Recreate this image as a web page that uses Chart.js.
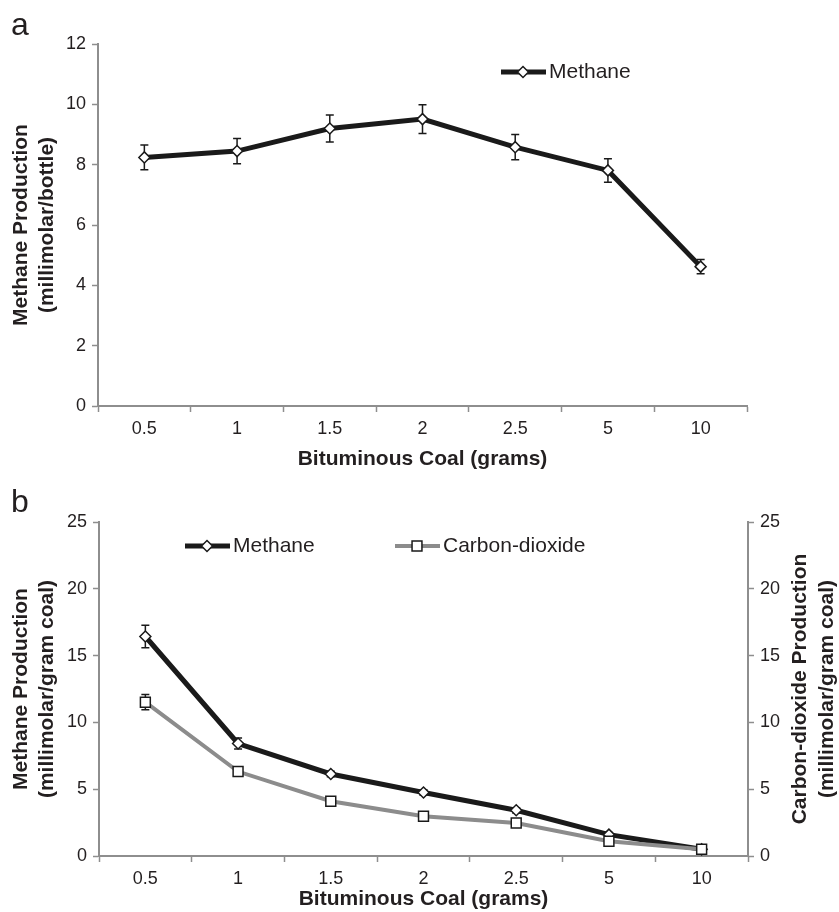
<!DOCTYPE html>
<html>
<head>
<meta charset="utf-8">
<script src="https://cdn.jsdelivr.net/npm/chart.js@4/dist/chart.umd.min.js"></script>
<style>
  body { margin: 0; background: #fff; }
  #wrapA { position: absolute; left: 0; top: 0; width: 839px; height: 472px; }
  #wrapB { position: absolute; left: 0; top: 472px; width: 839px; height: 440px; }
</style>
</head>
<body>
<div id="wrapA"><canvas id="chartA" width="839" height="472"></canvas></div>
<div id="wrapB"><canvas id="chartB" width="839" height="440"></canvas></div>
<script>
// coal amount categories (grams)
var coal = ['0.5', '1', '1.5', '2', '2.5', '5', '10'];

// panel a: methane per bottle
var methaneA = [8.24, 8.45, 9.2, 9.51, 8.58, 7.81, 4.62];
var methaneAErr = [0.41, 0.42, 0.45, 0.48, 0.42, 0.39, 0.24];
var ticksA = [0, 2, 4, 6, 8, 10, 12];

// panel b: per gram coal
var methaneB = [16.43, 8.42, 6.14, 4.75, 3.42, 1.6, 0.5];
var methaneBErr = [0.84, 0.42, 0.2, 0.2, 0.2, 0.15, 0.1];
var co2B = [11.51, 6.32, 4.1, 2.97, 2.47, 1.1, 0.5];
var co2BErr = [0.57, 0.2, 0.2, 0.15, 0.15, 0.1, 0.1];
var ticksB = [0, 5, 10, 15, 20, 25];

var ink = '#231f20';
var black = '#1a1a1a';
var grey = '#8c8c8c';
var axisGrey = '#8e8e8e';
var font = "'Liberation Sans', Arial, sans-serif";

Chart.defaults.font.family = font;
Chart.defaults.color = ink;

// error bars drawn through the y scale
var errorBars = {
  id: 'errorBars',
  beforeDatasetsDraw: function(chart) {
    var ctx = chart.ctx;
    chart.data.datasets.forEach(function(ds, i) {
      if (!ds.errors) return;
      var meta = chart.getDatasetMeta(i);
      var ys = chart.scales[meta.yAxisID];
      ctx.save();
      ctx.strokeStyle = black;
      ctx.lineWidth = 1.5;
      meta.data.forEach(function(pt, j) {
        var v = ds.data[j], e = ds.errors[j];
        var top = ys.getPixelForValue(v + e);
        var bot = ys.getPixelForValue(v - e);
        ctx.beginPath();
        ctx.moveTo(pt.x, top); ctx.lineTo(pt.x, bot);
        ctx.moveTo(pt.x - 4, top); ctx.lineTo(pt.x + 4, top);
        ctx.moveTo(pt.x - 4, bot); ctx.lineTo(pt.x + 4, bot);
        ctx.stroke();
      });
      ctx.restore();
    });
  }
};

// excel style legend + panel letter + right axis title
var extras = {
  id: 'extras',
  afterDraw: function(chart, args, opts) {
    var ctx = chart.ctx;
    ctx.save();
    ctx.fillStyle = ink;
    ctx.font = '32px ' + font;
    ctx.textBaseline = 'alphabetic';
    ctx.fillText(opts.letter, 11, opts.letterY);

    (opts.items || []).forEach(function(it) {
      var ds = chart.data.datasets[it.index];
      ctx.strokeStyle = ds.borderColor;
      ctx.lineWidth = ds.borderWidth;
      ctx.beginPath();
      ctx.moveTo(it.x, it.y); ctx.lineTo(it.x + 45, it.y);
      ctx.stroke();
      ctx.fillStyle = ds.pointBackgroundColor;
      ctx.strokeStyle = ds.pointBorderColor;
      ctx.lineWidth = ds.pointBorderWidth;
      Chart.helpers.drawPoint(ctx, {
        pointStyle: ds.pointStyle, radius: ds.pointRadius, borderWidth: ds.pointBorderWidth
      }, it.x + 22, it.y);
      ctx.fillStyle = ink;
      ctx.font = '21px ' + font;
      ctx.textBaseline = 'middle';
      ctx.fillText(ds.label, it.x + 48, it.y);
    });

    if (opts.rightTitle) {
      var ca = chart.chartArea;
      ctx.font = 'bold 21px ' + font;
      ctx.textAlign = 'center';
      ctx.textBaseline = 'middle';
      ctx.translate(opts.rightTitleX, (ca.top + ca.bottom) / 2);
      ctx.rotate(-Math.PI / 2);
      opts.rightTitle.forEach(function(line, k) {
        ctx.fillText(line, 0, k * 27);
      });
    }
    ctx.restore();
  }
};

function lineSet(label, data, errors, color, width, style, radius, axis, order) {
  return {
    label: label,
    data: data,
    errors: errors,
    borderColor: color,
    borderWidth: width,
    backgroundColor: color,
    pointStyle: style,
    pointRadius: radius,
    pointBackgroundColor: '#ffffff',
    pointBorderColor: black,
    pointBorderWidth: 1.5,
    tension: 0,
    yAxisID: axis,
    order: order
  };
}

function yScale(ticks, pos, width) {
  return {
    position: pos,
    min: ticks[0],
    max: ticks[ticks.length - 1],
    afterFit: function(s) { s.width = width; },
    ticks: { stepSize: ticks[1] - ticks[0], padding: 6, font: { size: 18 }, color: ink },
    grid: { drawOnChartArea: false, tickLength: 6, tickColor: axisGrey, tickWidth: 1.5 },
    border: { color: axisGrey, width: 2 }
  };
}

function xScale(height) {
  return {
    offset: true,
    afterFit: function(s) { s.height = height; },
    ticks: { padding: 6, font: { size: 18 }, color: ink, maxRotation: 0 },
    grid: { offset: true, drawOnChartArea: false, tickLength: 6, tickColor: axisGrey, tickWidth: 1.5 },
    border: { color: axisGrey, width: 2 },
    title: {
      display: true, text: 'Bituminous Coal (grams)', color: ink,
      font: { size: 21, weight: 'bold', lineHeight: 1.2 }, padding: { top: 0, bottom: 0 }
    }
  };
}

function leftTitle(lines) {
  return {
    display: true, text: lines, color: ink,
    font: { size: 21, weight: 'bold', lineHeight: 1.2 }, padding: { top: 9, bottom: 0 }
  };
}

var sA = yScale(ticksA, 'left', 98);
sA.title = leftTitle(['Methane Production', '(millimolar/bottle)']);

new Chart(document.getElementById('chartA'), {
  type: 'line',
  data: {
    labels: coal,
    datasets: [lineSet('Methane', methaneA, methaneAErr, black, 5, 'rectRot', 5.5, 'y', 1)]
  },
  options: {
    responsive: false,
    animation: false,
    layout: { padding: { top: 44, right: 92, left: 0, bottom: 0 } },
    scales: { x: xScale(66), y: sA },
    plugins: {
      legend: { display: false },
      tooltip: { enabled: false },
      extras: { letter: 'a', letterY: 35, items: [{ index: 0, x: 501, y: 72 }] }
    }
  },
  plugins: [errorBars, extras]
});

var sB = yScale(ticksB, 'left', 99);
sB.title = leftTitle(['Methane Production', '(millimolar/gram coal)']);
var sB1 = yScale(ticksB, 'right', 91);

new Chart(document.getElementById('chartB'), {
  type: 'line',
  data: {
    labels: coal,
    datasets: [
      lineSet('Methane', methaneB, methaneBErr, black, 5, 'rectRot', 5.5, 'y', 1),
      lineSet('Carbon-dioxide', co2B, co2BErr, grey, 4, 'rect', 7, 'y1', 0)
    ]
  },
  options: {
    responsive: false,
    animation: false,
    layout: { padding: { top: 50, right: 0, left: 0, bottom: 0 } },
    scales: { x: xScale(56), y: sB, y1: sB1 },
    plugins: {
      legend: { display: false },
      tooltip: { enabled: false },
      extras: {
        letter: 'b', letterY: 40,
        items: [{ index: 0, x: 185, y: 74 }, { index: 1, x: 395, y: 74 }],
        rightTitle: ['Carbon-dioxide Production', '(millimolar/gram coal)'],
        rightTitleX: 800
      }
    }
  },
  plugins: [errorBars, extras]
});
</script>
</body>
</html>
